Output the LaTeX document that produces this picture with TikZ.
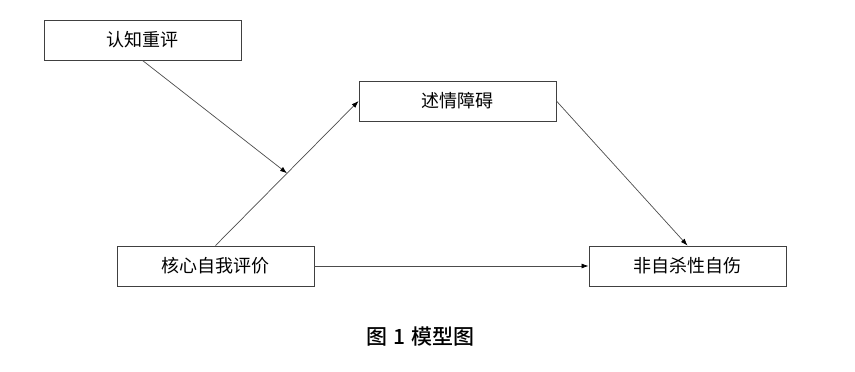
\documentclass[tikz,border=0pt]{standalone}
\usepackage{fontspec}
\setmainfont{Noto Sans CJK SC}
\newfontfamily\capfont{Noto Sans CJK SC Medium}
\usetikzlibrary{arrows.meta}
\begin{document}
\begin{tikzpicture}[x=1pt,y=-1pt,
  box/.style={draw=black!75, line width=0.9pt, minimum width=197pt, minimum height=40pt, inner sep=0pt, font=\fontsize{18}{20}\selectfont},
  arr/.style={draw=black!70, line width=0.7pt, -{Latex[length=7pt,width=5pt,fill=black,color=black]}}]
\useasboundingbox (0,0) rectangle (855,372);
\node[box] (cr) at (142.5,40) {认知重评};
\node[box] (al) at (457.5,101) {述情障碍};
\node[box] (cs) at (215.5,266) {核心自我评价};
\node[box] (ns) at (687.5,266) {非自杀性自伤};
\draw[arr] (cs.north) -- (al.west) coordinate[pos=0.5] (mid);
\draw[arr] (cr.south) -- (mid);
\draw[arr] (al.east) -- (ns.north);
\draw[arr] (cs.east) -- (ns.west);
\node[font=\capfont\fontsize{21}{23}\selectfont] (cap) at (420.5,337) {图\hspace{0.3em}1\hspace{0.3em}模型图};
\end{tikzpicture}
\end{document}
